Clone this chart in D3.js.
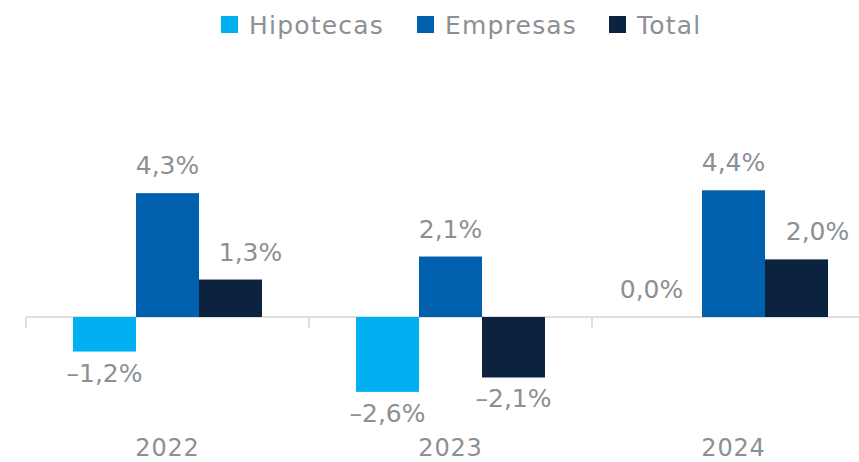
<!DOCTYPE html>
<html>
<head>
<meta charset="utf-8">
<script src="https://cdn.jsdelivr.net/npm/d3@7"></script>
<style>
  body { margin: 0; background: #fff; }
  text { font-family: "DejaVu Sans", sans-serif; fill: #8b9095; }
</style>
</head>
<body>
<div id="viz"></div>
<script>
// data
const years = ['2022', '2023', '2024'];
const seriesNames = ['Hipotecas', 'Empresas', 'Total'];
const hipotecas = [-1.2, -2.6, 0.0];
const empresas = [4.3, 2.1, 4.4];
const total = [1.3, -2.1, 2.0];

const colors = ['#00b0f0', '#0060ad', '#0c2340'];

const width = 859;
const height = 462;

// label nudges (label placement, not data)
const nudge = {
  'Hipotecas-2024': -19,
  'Total-2022': 20,
  'Total-2024': 21,
};

const svg = d3
  .select('#viz')
  .append('svg')
  .attr('width', width)
  .attr('height', height);

const x0 = d3.scaleBand().domain(years).range([26, 875]).padding(0);
const x1 = d3
  .scaleBand()
  .domain(seriesNames)
  .range([47, x0.bandwidth() - 47])
  .padding(0);
const y = d3.scaleLinear().domain([-4, 6]).range([432.2, 144.2]);

const seriesValues = [hipotecas, empresas, total];
const data = [];
years.forEach((yr, i) => {
  seriesNames.forEach((s, j) => {
    data.push({ year: yr, series: s, value: seriesValues[j][i], color: colors[j] });
  });
});

// axis line + ticks
const axisGrp = svg.append('g').attr('class', 'axis');
axisGrp
  .append('line')
  .attr('x1', x0.range()[0])
  .attr('x2', width)
  .attr('y1', y(0))
  .attr('y2', y(0))
  .attr('stroke', '#d4d4d4')
  .attr('stroke-width', 1.5);

const tickXs = years.map((d) => x0(d)).concat([x0.range()[1]]);
axisGrp
  .selectAll('line.tick')
  .data(tickXs)
  .enter()
  .append('line')
  .attr('class', 'tick')
  .attr('x1', (d) => d)
  .attr('x2', (d) => d)
  .attr('y1', y(0))
  .attr('y2', y(0) + 11)
  .attr('stroke', '#d4d4d4')
  .attr('stroke-width', 1.5);

// bars
svg
  .append('g')
  .selectAll('rect')
  .data(data)
  .enter()
  .append('rect')
  .attr('x', (d) => x0(d.year) + x1(d.series))
  .attr('y', (d) => y(Math.max(0, d.value)))
  .attr('width', x1.bandwidth())
  .attr('height', (d) => Math.abs(y(d.value) - y(0)))
  .attr('fill', (d) => d.color);

// value labels
const fmt = (v) => (v < 0 ? '\u2013' : '') + Math.abs(v).toFixed(1).replace('.', ',') + '%';
svg
  .append('g')
  .selectAll('text')
  .data(data)
  .enter()
  .append('text')
  .attr('text-anchor', 'middle')
  .attr('font-size', 25)
  .attr('x', (d) => x0(d.year) + x1(d.series) + x1.bandwidth() / 2 + (nudge[d.series + '-' + d.year] || 0))
  .attr('y', (d) => (d.value < 0 ? y(d.value) + 30 : y(d.value) - 19))
  .text((d) => fmt(d.value));

// category labels
svg
  .append('g')
  .selectAll('text')
  .data(years)
  .enter()
  .append('text')
  .attr('text-anchor', 'middle')
  .attr('font-size', 24)
  .attr('letter-spacing', 0.8)
  .attr('x', (d) => x0(d) + x0.bandwidth() / 2)
  .attr('y', 456)
  .text((d) => d);

// legend
const legendX = [221, 417, 609];
const legend = svg
  .append('g')
  .selectAll('g')
  .data(seriesNames)
  .enter()
  .append('g')
  .attr('transform', (d, i) => `translate(${legendX[i]},0)`);
legend
  .append('rect')
  .attr('x', 0)
  .attr('y', 16)
  .attr('width', 17)
  .attr('height', 17)
  .attr('fill', (d, i) => colors[i]);
legend
  .append('text')
  .attr('x', 28)
  .attr('y', 34)
  .attr('font-size', 25)
  .attr('letter-spacing', 1.2)
  .text((d) => d);
</script>
</body>
</html>
